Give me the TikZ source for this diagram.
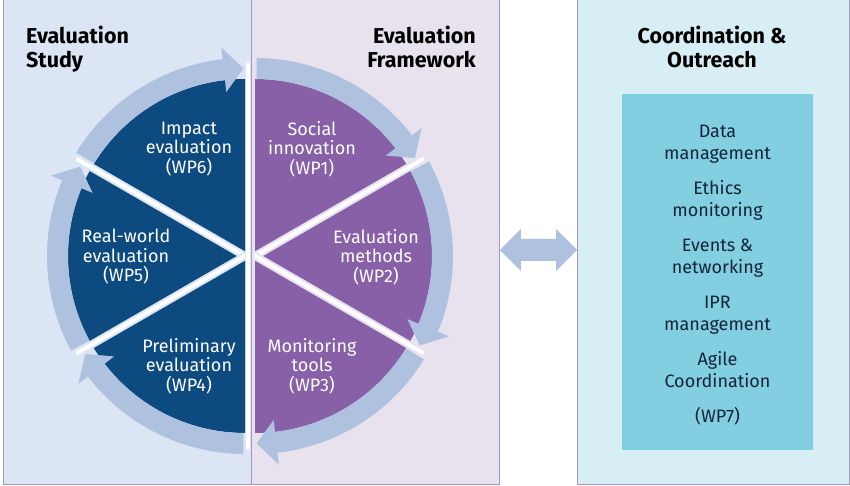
\documentclass[tikz,border=0pt]{standalone}
\usepackage{fontspec}
\setmainfont{Fira Sans}
\usetikzlibrary{positioning, calc}
\definecolor{StudyBg}{HTML}{DBE5F3}
\definecolor{FrameBg}{HTML}{E8E1EE}
\definecolor{OutreachBg}{HTML}{D8EEF5}
\definecolor{WPBox}{HTML}{81CFE0}
\definecolor{PieBlue}{HTML}{0C4A80}
\definecolor{PiePurple}{HTML}{8760A7}
\definecolor{RingBlue}{HTML}{AEC2E0}
\definecolor{PanelLine}{HTML}{A596C4}
\definecolor{InkDark}{HTML}{14233A}

% clockwise ring arrow: center, tail angle, tip angle
\newcommand{\cyclearrow}[3]{%
  \fill[RingBlue] ($(#1)+(#2:198)$) arc[start angle=#2, end angle={#3+6}, radius=198]
    -- ($(#1)+({#3+6}:210)$) -- ($(#1)+(#3:187.5)$) -- ($(#1)+({#3+6}:165)$)
    -- ($(#1)+({#3+6}:177)$) arc[start angle={#3+6}, end angle=#2, radius=177] -- cycle;}

\begin{document}
\begin{tikzpicture}[
        x=1pt, y=1pt,
        panel/.style={rectangle, draw=PanelLine, line width=0.8pt, inner sep=0pt, anchor=south west},
        title/.style={inner sep=0pt, font=\bfseries\fontsize{21.5}{23.5}\selectfont, text=black},
        wptext/.style={align=center, inner sep=0pt, text=white, font=\fontsize{18}{19.5}\selectfont},
        wpbox/.style={rectangle, fill=WPBox, minimum width=191pt, minimum height=356pt},
        wpitems/.style={align=center, inner sep=0pt, text=InkDark, font=\fontsize{18}{22}\selectfont},
        gaphalo/.style={line width=8pt},
        gapcore/.style={line width=4pt, white}
    ]
        \useasboundingbox (0,0) rectangle (850,486);

        % panels
        \node (study) [panel, fill=StudyBg, minimum width=248pt, minimum height=485pt] at (3,1) {};
        \node (framework) [panel, fill=FrameBg, minimum width=248pt, minimum height=485pt] at (251,1) {};
        \node (outreach) [panel, fill=OutreachBg, minimum width=272pt, minimum height=485pt] at (577,1) {};

        % the two halves of the cycle
        \coordinate (L) at (245,230);
        \coordinate (R) at (255,230);
        \fill[PieBlue] ($(L)+(90:177)$) arc[start angle=90, end angle=270, radius=177] -- cycle;
        \fill[PiePurple] ($(R)+(90:177)$) arc[start angle=90, end angle=-90, radius=177] -- cycle;
        \foreach \a in {150,210} {
            \draw[gaphalo, StudyBg] (L) -- ++(\a:195);
            \draw[gapcore] (L) -- ++(\a:195);
        }
        \foreach \a in {30,-30} {
            \draw[gaphalo, FrameBg] (R) -- ++(\a:195);
            \draw[gapcore] (R) -- ++(\a:195);
        }
        \draw[gapcore] (248,37) -- (248,423);

        \cyclearrow{L}{148.5}{90.5}
        \cyclearrow{L}{208.5}{151.5}
        \cyclearrow{L}{269.5}{211.5}
        \cyclearrow{R}{89.5}{31.5}
        \cyclearrow{R}{28.5}{-28.5}
        \cyclearrow{R}{-31.5}{-89.5}

        \node (wp6) [wptext] at (189,337) {Impact\\evaluation\\(WP6)};
        \node (wp1) [wptext] at (312,337) {Social\\innovation\\(WP1)};
        \node (wp5) [wptext] at (126,229) {Real-world\\evaluation\\(WP5)};
        \node (wp2) [wptext] at (376,229) {Evaluation\\methods\\(WP2)};
        \node (wp4) [wptext] at (189,120) {Preliminary\\evaluation\\(WP4)};
        \node (wp3) [wptext] at (312,120) {Monitoring\\tools\\(WP3)};

        % titles
        \node (studytitle) [title, anchor=north west, align=left] at (26,460) {Evaluation\\Study};
        \node (frametitle) [title, anchor=north east, align=right] at (476,460) {Evaluation\\Framework};
        \node (outreachtitle) [title, anchor=north, align=center] at (712,460) {Coordination \&\\Outreach};

        \node (wp7box) [wpbox] at (717.5,214) {};
        \node (wp7) [wpitems] at ($(wp7box.center)+(0,-3.5)$) {Data\\management\\[13pt]Ethics\\monitoring\\[13pt]Events \&\\networking\\[13pt]IPR\\management\\[13pt]Agile\\Coordination\\[13pt](WP7)};

        % link between framework and outreach
        \coordinate (link) at (0,236);
        \fill[RingBlue] (framework.east |- link) -- ++(21,21) -- ++(0,-10)
            -- ($(outreach.west |- link)+(-21,11)$) -- ++(0,10) -- (outreach.west |- link)
            -- ++(-21,-21) -- ++(0,10) -- ($(framework.east |- link)+(21,-11)$) -- ++(0,-10) -- cycle;
    \end{tikzpicture}
\end{document}
